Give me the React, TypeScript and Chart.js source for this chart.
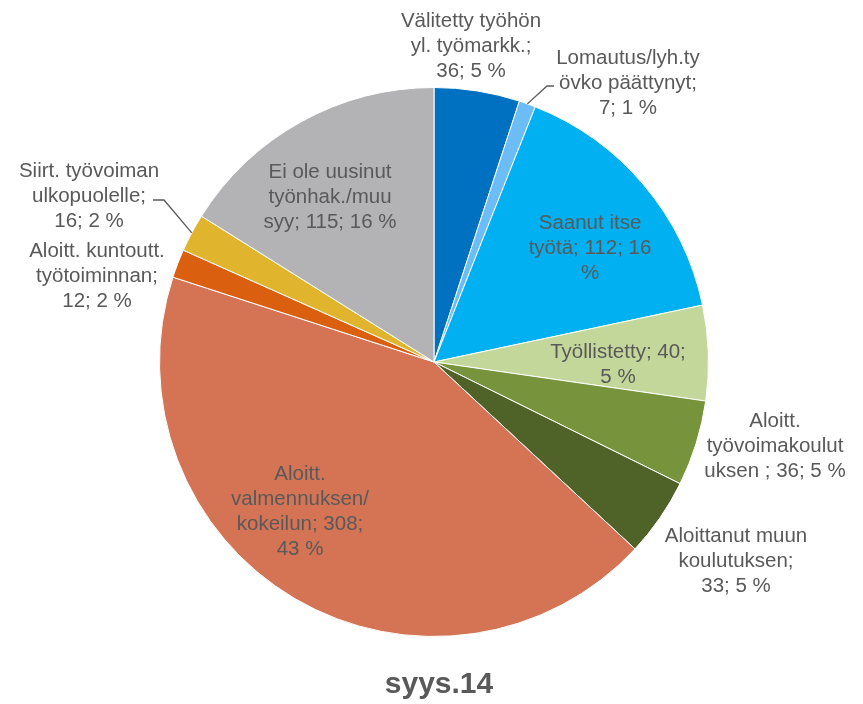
import React, { useEffect, useRef } from "react";
import { Chart, registerables } from "chart.js";

Chart.register(...registerables);

const categories = [
  "Välitetty työhön yl. työmarkk.",
  "Lomautus/lyh.työvko päättynyt",
  "Saanut itse työtä",
  "Työllistetty",
  "Aloitt. työvoimakoulutuksen",
  "Aloittanut muun koulutuksen",
  "Aloitt. valmennuksen/kokeilun",
  "Aloitt. kuntoutt. työtoiminnan",
  "Siirt. työvoiman ulkopuolelle",
  "Ei ole uusinut työnhak./muu syy",
];
const values = [36, 7, 112, 40, 36, 33, 308, 12, 16, 115];
const percents = [5, 1, 16, 5, 5, 5, 43, 2, 2, 16];
const labelLines = [
  ["Välitetty työhön", "yl. työmarkk.;", "36; 5 %"],
  ["Lomautus/lyh.ty", "övko päättynyt;", "7; 1 %"],
  ["Saanut itse", "työtä; 112; 16", "%"],
  ["Työllistetty; 40;", "5 %"],
  ["Aloitt.", "työvoimakoulut", "uksen ; 36; 5 %"],
  ["Aloittanut muun", "koulutuksen;", "33; 5 %"],
  ["Aloitt.", "valmennuksen/", "kokeilun; 308;", "43 %"],
  ["Aloitt. kuntoutt.", "työtoiminnan;", "12; 2 %"],
  ["Siirt. työvoiman", "ulkopuolelle;", "16; 2 %"],
  ["Ei ole uusinut", "työnhak./muu", "syy; 115; 16 %"],
];
const colors = [
  "#0070C0",
  "#6CBDF6",
  "#00B0F0",
  "#C4D79B",
  "#77933C",
  "#4F6228",
  "#D47455",
  "#DA600F",
  "#E0B52D",
  "#B3B3B5",
];
const title = "syys.14";

// label layout (center x, first line center y)
const labelPos: [number, number][] = [
  [471, 21],
  [628, 58],
  [590, 223],
  [618, 352],
  [775, 421],
  [736, 536],
  [300, 474],
  [97, 251],
  [89, 171],
  [330, 172],
];
// leader line elbows: [index, startX, startY, elbowX, elbowY]
const leaders: [number, number, number, number, number][] = [
  [1, 554, 86, 547, 86],
  [8, 153, 200, 164, 200],
];

const labelPlugin = {
  id: "labelPlugin",
  afterDatasetsDraw(chart: any) {
    const ctx = chart.ctx;
    const meta = chart.getDatasetMeta(0);
    ctx.save();
    ctx.font = '20.5px "Liberation Sans", Arial, sans-serif';
    ctx.textAlign = "center";
    ctx.textBaseline = "middle";
    labelLines.forEach((lines, i) => {
      ctx.fillStyle = "#595959";
      const [x, y] = labelPos[i];
      lines.forEach((l, j) => ctx.fillText(l, x, y + j * 25));
    });
    ctx.strokeStyle = "#595959";
    ctx.lineWidth = 1.3;
    leaders.forEach(([i, sx, sy, ex, ey]) => {
      const arc = meta.data[i];
      const p = arc.getProps(["x", "y", "startAngle", "endAngle", "outerRadius"], true);
      const mid = (p.startAngle + p.endAngle) / 2;
      const tx = p.x + Math.cos(mid) * p.outerRadius;
      const ty = p.y + Math.sin(mid) * p.outerRadius;
      ctx.beginPath();
      ctx.moveTo(sx, sy);
      ctx.lineTo(ex, ey);
      ctx.lineTo(tx, ty);
      ctx.stroke();
    });
    ctx.font = 'bold 30px "Liberation Sans", Arial, sans-serif';
    ctx.fillStyle = "#595959";
    ctx.fillText(title, 439, 685);
    ctx.restore();
  },
};

export default function App() {
  const ref = useRef<HTMLCanvasElement>(null);
  useEffect(() => {
    if (!ref.current) return;
    const chart = new Chart(ref.current, {
      type: "pie",
      data: {
        labels: categories,
        datasets: [
          {
            data: values,
            backgroundColor: colors,
            borderColor: "#FFFFFF",
            borderWidth: 1,
          },
        ],
      },
      options: {
        responsive: false,
        animation: false,
        layout: { padding: { left: 159, right: 154, top: 87, bottom: 67 } },
        plugins: {
          legend: { display: false },
          tooltip: { enabled: false },
          title: { display: false },
        },
      },
      plugins: [labelPlugin],
    });
    return () => chart.destroy();
  }, []);
  return (
    <div style={{ position: "absolute", left: 0, top: 0, width: 863, height: 704, background: "#fff" }}>
      <canvas ref={ref} width={863} height={704} />
    </div>
  );
}
